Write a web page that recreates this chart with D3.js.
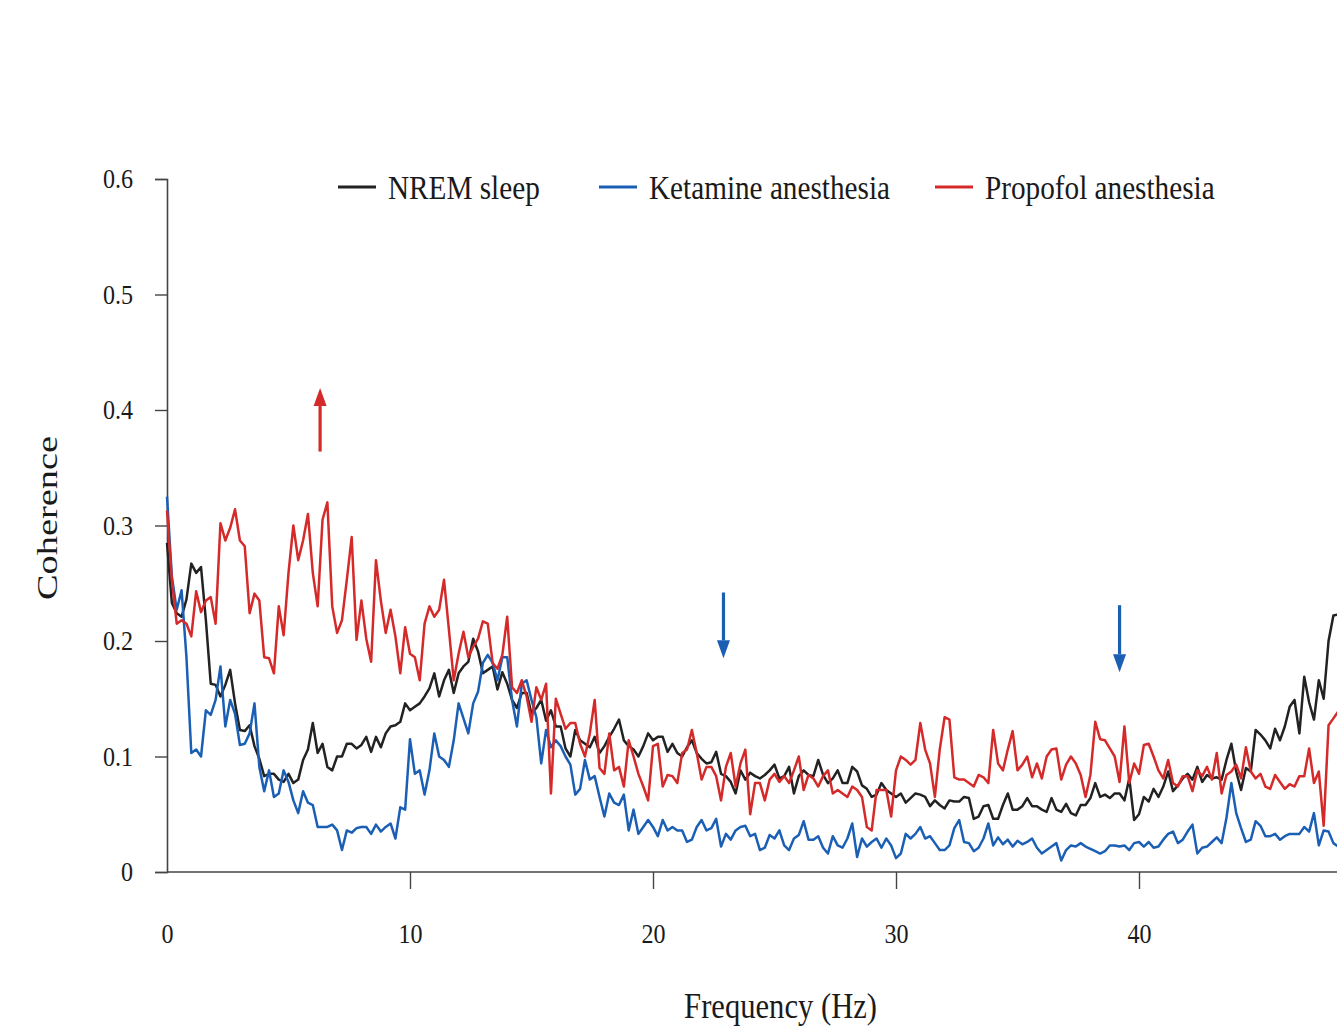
<!DOCTYPE html>
<html>
<head>
<meta charset="utf-8">
<script src="https://cdn.jsdelivr.net/npm/d3@7"></script>
<style>
  html, body { margin: 0; padding: 0; background: #fff; overflow: hidden; }
  svg { display: block; }
  text { font-family: 'Liberation Serif', 'Times New Roman', serif; fill: #1a1a1a; }
</style>
</head>
<body>
<svg id="chart"></svg>
<script>
// spectra sampled every 0.2 Hz, from 0 to 48.2 Hz
const freqStep = 0.2

const nremSleep = [
  0.285, 0.233, 0.224, 0.221, 0.236, 0.267, 0.259, 0.264, 0.218, 0.163,
  0.162, 0.152, 0.162, 0.175, 0.146, 0.123, 0.122, 0.127, 0.109, 0.098,
  0.083, 0.085, 0.085, 0.080, 0.078, 0.085, 0.077, 0.080, 0.097, 0.106,
  0.129, 0.103, 0.111, 0.091, 0.088, 0.100, 0.100, 0.111, 0.111, 0.107,
  0.110, 0.117, 0.104, 0.117, 0.108, 0.120, 0.126, 0.127, 0.130, 0.146,
  0.140, 0.143, 0.146, 0.152, 0.159, 0.172, 0.152, 0.166, 0.175, 0.155,
  0.172, 0.178, 0.182, 0.202, 0.191, 0.172, 0.175, 0.178, 0.158, 0.173,
  0.163, 0.149, 0.142, 0.155, 0.155, 0.137, 0.142, 0.149, 0.131, 0.140,
  0.126, 0.126, 0.107, 0.100, 0.123, 0.114, 0.111, 0.108, 0.117, 0.103,
  0.109, 0.117, 0.124, 0.132, 0.114, 0.109, 0.106, 0.100, 0.109, 0.120,
  0.114, 0.117, 0.117, 0.104, 0.111, 0.103, 0.100, 0.108, 0.114, 0.103,
  0.098, 0.094, 0.095, 0.104, 0.085, 0.083, 0.078, 0.068, 0.088, 0.080,
  0.086, 0.083, 0.081, 0.084, 0.088, 0.093, 0.081, 0.083, 0.091, 0.068,
  0.083, 0.088, 0.084, 0.083, 0.097, 0.084, 0.077, 0.081, 0.088, 0.077,
  0.077, 0.091, 0.087, 0.075, 0.072, 0.065, 0.067, 0.077, 0.071, 0.068,
  0.065, 0.068, 0.060, 0.064, 0.068, 0.067, 0.065, 0.057, 0.062, 0.058,
  0.055, 0.062, 0.061, 0.061, 0.065, 0.064, 0.046, 0.048, 0.057, 0.058,
  0.046, 0.046, 0.058, 0.068, 0.054, 0.054, 0.057, 0.064, 0.057, 0.057,
  0.054, 0.052, 0.064, 0.054, 0.052, 0.059, 0.051, 0.049, 0.058, 0.058,
  0.064, 0.077, 0.065, 0.067, 0.064, 0.068, 0.068, 0.062, 0.081, 0.045,
  0.050, 0.065, 0.061, 0.072, 0.065, 0.074, 0.087, 0.070, 0.075, 0.081,
  0.085, 0.080, 0.091, 0.078, 0.084, 0.081, 0.082, 0.080, 0.097, 0.111,
  0.087, 0.071, 0.090, 0.087, 0.123, 0.119, 0.114, 0.107, 0.124, 0.114,
  0.126, 0.143, 0.149, 0.120, 0.169, 0.147, 0.132, 0.166, 0.150, 0.200,
  0.222, 0.223
]

const ketamine = [
  0.325, 0.256, 0.227, 0.244, 0.186, 0.103, 0.106, 0.100, 0.140, 0.136,
  0.149, 0.178, 0.126, 0.149, 0.137, 0.110, 0.111, 0.120, 0.146, 0.091,
  0.070, 0.088, 0.065, 0.068, 0.088, 0.078, 0.062, 0.051, 0.070, 0.060,
  0.058, 0.039, 0.039, 0.039, 0.041, 0.036, 0.019, 0.036, 0.034, 0.038,
  0.039, 0.039, 0.033, 0.041, 0.035, 0.039, 0.042, 0.029, 0.056, 0.054,
  0.115, 0.085, 0.088, 0.067, 0.088, 0.120, 0.100, 0.097, 0.091, 0.114,
  0.146, 0.133, 0.120, 0.146, 0.156, 0.181, 0.188, 0.181, 0.166, 0.186,
  0.186, 0.149, 0.126, 0.163, 0.166, 0.149, 0.134, 0.094, 0.123, 0.108,
  0.114, 0.109, 0.100, 0.093, 0.067, 0.072, 0.097, 0.080, 0.083, 0.065,
  0.048, 0.068, 0.060, 0.058, 0.067, 0.036, 0.054, 0.033, 0.039, 0.045,
  0.039, 0.031, 0.045, 0.036, 0.039, 0.036, 0.036, 0.026, 0.028, 0.039,
  0.045, 0.036, 0.038, 0.046, 0.022, 0.033, 0.028, 0.036, 0.039, 0.040,
  0.031, 0.033, 0.019, 0.021, 0.032, 0.029, 0.036, 0.023, 0.019, 0.029,
  0.032, 0.044, 0.028, 0.028, 0.031, 0.021, 0.016, 0.031, 0.023, 0.021,
  0.029, 0.042, 0.013, 0.029, 0.022, 0.026, 0.029, 0.021, 0.029, 0.023,
  0.012, 0.016, 0.033, 0.029, 0.033, 0.039, 0.029, 0.031, 0.025, 0.019,
  0.019, 0.023, 0.038, 0.045, 0.026, 0.025, 0.018, 0.021, 0.029, 0.042,
  0.023, 0.030, 0.024, 0.028, 0.022, 0.027, 0.024, 0.026, 0.029, 0.021,
  0.016, 0.019, 0.022, 0.025, 0.010, 0.019, 0.023, 0.022, 0.025, 0.022,
  0.020, 0.018, 0.016, 0.018, 0.023, 0.023, 0.022, 0.023, 0.019, 0.025,
  0.026, 0.022, 0.026, 0.021, 0.022, 0.028, 0.033, 0.035, 0.025, 0.028,
  0.035, 0.041, 0.016, 0.021, 0.022, 0.026, 0.030, 0.025, 0.047, 0.077,
  0.051, 0.038, 0.026, 0.028, 0.044, 0.040, 0.031, 0.031, 0.033, 0.028,
  0.031, 0.033, 0.033, 0.033, 0.039, 0.035, 0.051, 0.023, 0.036, 0.035,
  0.025, 0.022
]

const propofol = [
  0.313, 0.253, 0.215, 0.218, 0.215, 0.204, 0.243, 0.225, 0.235, 0.238,
  0.215, 0.302, 0.287, 0.298, 0.314, 0.287, 0.282, 0.224, 0.241, 0.235,
  0.186, 0.185, 0.172, 0.230, 0.205, 0.259, 0.300, 0.270, 0.287, 0.310,
  0.259, 0.230, 0.305, 0.320, 0.230, 0.207, 0.218, 0.253, 0.290, 0.201,
  0.235, 0.202, 0.182, 0.270, 0.235, 0.207, 0.227, 0.204, 0.172, 0.212,
  0.189, 0.186, 0.166, 0.215, 0.230, 0.221, 0.227, 0.253, 0.210, 0.166,
  0.189, 0.208, 0.186, 0.195, 0.202, 0.217, 0.215, 0.181, 0.176, 0.188,
  0.221, 0.160, 0.155, 0.166, 0.152, 0.130, 0.160, 0.149, 0.163, 0.068,
  0.150, 0.137, 0.124, 0.129, 0.129, 0.111, 0.100, 0.120, 0.149, 0.090,
  0.085, 0.120, 0.088, 0.091, 0.074, 0.114, 0.100, 0.085, 0.074, 0.062,
  0.109, 0.111, 0.074, 0.084, 0.083, 0.077, 0.103, 0.106, 0.123, 0.103,
  0.080, 0.091, 0.091, 0.083, 0.062, 0.091, 0.103, 0.074, 0.094, 0.106,
  0.050, 0.077, 0.077, 0.062, 0.080, 0.085, 0.078, 0.083, 0.077, 0.088,
  0.100, 0.071, 0.084, 0.081, 0.074, 0.083, 0.088, 0.068, 0.071, 0.068,
  0.065, 0.074, 0.071, 0.065, 0.039, 0.036, 0.071, 0.071, 0.071, 0.048,
  0.088, 0.100, 0.097, 0.093, 0.097, 0.129, 0.106, 0.094, 0.065, 0.106,
  0.134, 0.132, 0.082, 0.080, 0.080, 0.077, 0.074, 0.084, 0.082, 0.077,
  0.123, 0.094, 0.088, 0.106, 0.122, 0.088, 0.093, 0.100, 0.082, 0.094,
  0.081, 0.100, 0.106, 0.107, 0.080, 0.093, 0.100, 0.094, 0.084, 0.065,
  0.084, 0.130, 0.115, 0.114, 0.107, 0.100, 0.078, 0.126, 0.077, 0.094,
  0.085, 0.110, 0.111, 0.100, 0.088, 0.081, 0.097, 0.077, 0.074, 0.083,
  0.083, 0.070, 0.088, 0.083, 0.091, 0.080, 0.103, 0.068, 0.084, 0.087,
  0.093, 0.081, 0.108, 0.087, 0.081, 0.085, 0.074, 0.072, 0.084, 0.078,
  0.072, 0.076, 0.074, 0.083, 0.083, 0.107, 0.077, 0.087, 0.040, 0.127,
  0.133, 0.139
]

const seriesNames = ['NREM sleep', 'Ketamine anesthesia', 'Propofol anesthesia']
const seriesColors = ['#222222', '#1b5fb5', '#d52a2a']
const xTicks = [0, 10, 20, 30, 40]
const yTicks = [0, 0.1, 0.2, 0.3, 0.4, 0.5, 0.6]
const yTickLabels = ['0', '0.1', '0.2', '0.3', '0.4', '0.5', '0.6']

// arrows: frequency, tail value, tip value
const arrowFreqs = [6.3, 22.9, 39.2]
const arrowTails = [0.364, 0.242, 0.231]
const arrowTips = [0.419, 0.185, 0.173]
const arrowColors = ['#d52a2a', '#1b5fb5', '#1b5fb5']

const width = 1337
const height = 1028
const squeeze = 0.86 // the figure's type is narrow

const svg = d3.select('#chart').attr('width', width).attr('height', height)

const x = d3.scaleLinear().domain([0, 40]).range([167, 1139])
const y = d3.scaleLinear().domain([0, 0.6]).range([872, 179])

const freqs = nremSleep.map((d, i) => i * freqStep)

// y axis
const yAxis = svg.append('g')
  .attr('transform', `translate(${x(0)},0)`)
  .call(d3.axisLeft(y).tickValues(yTicks).tickSize(12).tickFormat((d, i) => yTickLabels[i]))
yAxis.select('.domain').attr('stroke', '#444').attr('stroke-width', 1.6)
yAxis.selectAll('.tick line').attr('stroke', '#444').attr('stroke-width', 1.4)
yAxis.selectAll('.tick text')
  .attr('x', null)
  .attr('transform', `translate(-34,0) scale(${squeeze},1)`)
  .style('font-size', '28px')
  .attr('fill', '#1a1a1a')

// x axis
const xAxis = svg.append('g')
  .attr('transform', `translate(0,${y(0)})`)
  .call(d3.axisBottom(x).tickValues(xTicks).tickSize(17).tickSizeOuter(0))
xAxis.select('.domain')
  .attr('d', `M${x(0)},0H${width + 2}`)
  .attr('stroke', '#444').attr('stroke-width', 1.6)
xAxis.selectAll('.tick line').attr('stroke', '#444').attr('stroke-width', 1.4)
  .filter(d => d === 0).remove()
xAxis.selectAll('.tick text')
  .attr('y', 61)
  .attr('dy', '0.35em')
  .attr('transform', `scale(${squeeze},1)`)
  .style('font-size', '28px')
  .attr('fill', '#1a1a1a')

// axis titles
svg.append('text')
  .attr('transform', `translate(${x(25.25)},1006) scale(0.875,1)`)
  .attr('text-anchor', 'middle')
  .attr('dy', '0.35em')
  .style('font-size', '35px')
  .text('Frequency (Hz)')

svg.append('text')
  .attr('transform', 'translate(47,518) rotate(-90) scale(1.13,0.86)')
  .attr('text-anchor', 'middle')
  .attr('dy', '0.35em')
  .style('font-size', '34px')
  .text('Coherence')

// lines
const line = d3.line()
  .x((d, i) => x(freqs[i]))
  .y(d => y(d))

const series = [nremSleep, ketamine, propofol]
svg.append('g')
  .selectAll('path')
  .data(series)
  .join('path')
  .attr('d', d => line(d))
  .attr('fill', 'none')
  .attr('stroke', (d, i) => seriesColors[i])
  .attr('stroke-width', 2.5)
  .attr('stroke-linejoin', 'round')

// arrows
const arrowG = svg.append('g')
arrowFreqs.forEach((f, i) => {
  const ax = x(f)
  const tail = y(arrowTails[i])
  const tip = y(arrowTips[i])
  const dir = tip < tail ? 1 : -1
  const base = tip + dir * 18
  arrowG.append('line')
    .attr('x1', ax).attr('x2', ax)
    .attr('y1', tail).attr('y2', base)
    .attr('stroke', arrowColors[i])
    .attr('stroke-width', 3.2)
  arrowG.append('path')
    .attr('d', `M${ax},${tip}L${ax - 6.5},${base}L${ax + 6.5},${base}Z`)
    .attr('fill', arrowColors[i])
})

// legend
const legendX = [338, 599, 935]
const legend = svg.append('g')
  .selectAll('g')
  .data(seriesNames)
  .join('g')
  .attr('transform', (d, i) => `translate(${legendX[i]},187)`)
legend.append('line')
  .attr('x1', 0).attr('x2', 38)
  .attr('stroke', (d, i) => seriesColors[i])
  .attr('stroke-width', 3)
legend.append('text')
  .attr('transform', `translate(50,0) scale(${squeeze},1)`)
  .attr('dy', '0.35em')
  .style('font-size', '34px')
  .text(d => d)
</script>
</body>
</html>
